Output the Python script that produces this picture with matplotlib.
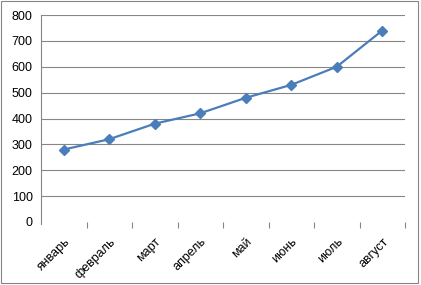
import matplotlib.pyplot as plt
from matplotlib.patches import Rectangle

months = ['январь', 'февраль', 'март', 'апрель', 'май', 'июнь', 'июль', 'август']
values = [280, 320, 380, 420, 480, 530, 600, 740]
yticks = [0, 100, 200, 300, 400, 500, 600, 700, 800]

plt.rcParams['font.family'] = ['Liberation Sans', 'DejaVu Sans']

fig = plt.figure(figsize=(4.21, 2.85), dpi=100)
ax = fig.add_axes([41/421, 1-222/285, 364/421, 207/285])

x = list(range(len(months)))
ax.plot(x, values, color='#4A7EBB', linewidth=1.6, marker='D', markersize=5,
        markerfacecolor='#4A7EBB', markeredgecolor='#4A7EBB')

ax.set_xlim(-0.5, len(months) - 0.5)
ax.set_ylim(0, 800)
ax.set_yticks(yticks)
ax.set_yticklabels([str(v) for v in yticks], fontsize=9)
for v in yticks[1:]:
    ax.axhline(v, color='#868686', linewidth=0.8, zorder=0)

ax.set_xticks(x)
ax.set_xticklabels(months, fontsize=9, rotation=45, ha='right', va='top',
                   rotation_mode='anchor')
ax.set_xticks([i + 0.5 for i in range(len(months))], minor=True)
ax.tick_params(axis='x', which='major', length=0, pad=10)
ax.tick_params(axis='x', which='minor', length=4, color='#868686', width=0.8)
ax.tick_params(axis='y', length=0, pad=6)

for s in ['top', 'right', 'bottom']:
    ax.spines[s].set_visible(False)
ax.spines['left'].set_color('#868686')
ax.spines['left'].set_linewidth(0.8)
ax.spines['left'].set_bounds(-8, 800)

fig.patches.append(Rectangle((1/421, 2/285), 417/421, 282/285, transform=fig.transFigure,
                             fill=False, edgecolor='#868686', linewidth=0.8))

fig.savefig('out.png', dpi=100)
